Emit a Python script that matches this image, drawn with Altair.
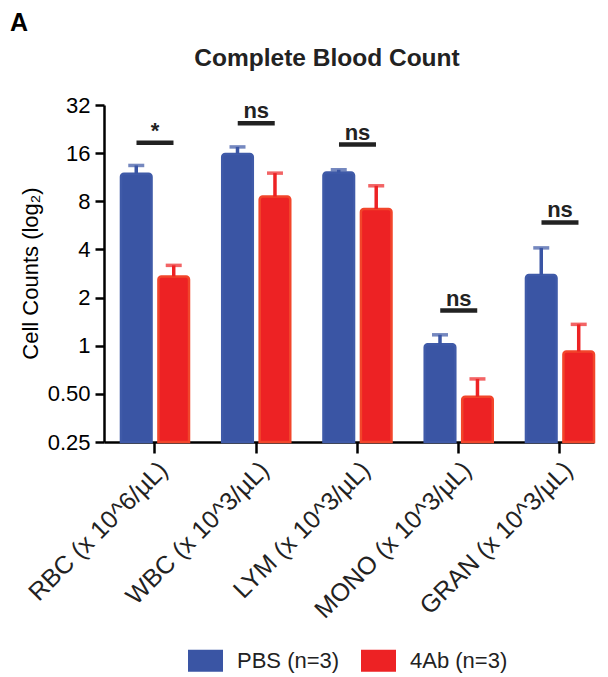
import altair as alt
import pandas as pd

categories = ["RBC (x 10^6/µL)", "WBC (x 10^3/µL)", "LYM (x 10^3/µL)",
              "MONO (x 10^3/µL)", "GRAN (x 10^3/µL)"]
groups = ["PBS (n=3)", "4Ab (n=3)"]
pbs_mean = [11.9, 15.8, 12.1, 1.02, 2.77]
pbs_upper = [13.4, 17.5, 12.6, 1.17, 4.09]
ab_mean = [2.71, 8.56, 7.16, 0.48, 0.92]
ab_upper = [3.18, 12.0, 10.0, 0.62, 1.36]
sig_labels = ["*", "ns", "ns", "ns", "ns"]
sig_y = [18.6, 24.6, 18.1, 1.66, 5.9]
y_ticks = [0.25, 0.5, 1, 2, 4, 8, 16, 32]
y_min = 0.25

rows = []
for i, c in enumerate(categories):
    rows.append({"cat": c, "group": groups[0], "mean": pbs_mean[i], "upper": pbs_upper[i]})
    rows.append({"cat": c, "group": groups[1], "mean": ab_mean[i], "upper": ab_upper[i]})
df = pd.DataFrame(rows)
sig = pd.DataFrame({"cat": categories, "label": sig_labels, "y": sig_y})

FONT = "Liberation Sans"
colors = ["#3A55A4", "#ED2224"]
strokes = ["#3F5AA8", "#F2452B"]

xenc = alt.X("cat:N", sort=categories, title=None,
             scale=alt.Scale(paddingInner=0.328, paddingOuter=0.0838, align=1),
             axis=alt.Axis(labelAngle=-45, labelFontSize=25, labelPadding=4,
                           tickSize=11, labelLimit=300, labelColor="#222222"))
xoff = alt.XOffset("group:N", sort=groups,
                   scale=alt.Scale(paddingInner=0.184, paddingOuter=0))
yscale = alt.Scale(type="log", base=2, domain=[0.25, 32])
cscale = alt.Scale(domain=groups, range=colors)

bars = alt.Chart(df).mark_bar(cornerRadiusTopLeft=3, cornerRadiusTopRight=3,
                              strokeWidth=2.5).encode(
    x=xenc, xOffset=xoff,
    y=alt.Y("mean:Q", scale=yscale,
            axis=alt.Axis(values=y_ticks, tickSize=9, labelFontSize=22, labelPadding=5,
                          labelExpr="datum.value == 0.5 ? '0.50' : toString(datum.value)",
                          title="Cell Counts (log₂)", titleFontSize=22,
                          titleFontWeight="normal", titleX=-74, titleY=168,
                          titleBaseline="middle", titleAlign="center", titleAngle=270)),
    y2=alt.datum(y_min),
    color=alt.Color("group:N", scale=cscale,
                    legend=alt.Legend(title=None, orient="none", legendX=84, legendY=538,
                                      direction="horizontal",
                                      symbolType="M-1,-0.63L1,-0.63L1,0.63L-1,0.63Z",
                                      symbolSize=1225, labelFontSize=22, labelFont=FONT,
                                      labelColor="#222222", symbolStrokeWidth=0,
                                      symbolOpacity=1, columnPadding=21, labelOffset=14,
                                      padding=0)),
    stroke=alt.Stroke("group:N", scale=alt.Scale(domain=groups, range=strokes), legend=None),
)

err = alt.Chart(df).mark_rule(strokeWidth=3.5).encode(
    x=xenc, xOffset=xoff, y="mean:Q", y2="upper:Q",
    color=alt.Color("group:N", scale=cscale, legend=None),
)
caps = alt.Chart(df).mark_tick(orient="horizontal", size=16, thickness=3.5).encode(
    x=xenc, xOffset=xoff, y="upper:Q",
    color=alt.Color("group:N", scale=cscale, legend=None),
)

sig_line = alt.Chart(sig).mark_tick(orient="horizontal", size=37, thickness=4.5,
                                    color="#222222", opacity=1).encode(
    x=xenc, y="y:Q")
sig_text = alt.Chart(sig).mark_text(fontSize=22, fontWeight="bold", font=FONT,
                                    color="#222222", baseline="alphabetic", dy=-5).encode(
    x=xenc, y="y:Q", text="label:N")

panel = alt.Chart(pd.DataFrame({"t": ["A"], "title": ["Complete Blood Count"]}))
label_a = panel.mark_text(
    fontSize=25, fontWeight="bold", font=FONT, color="black",
    align="left", baseline="alphabetic").encode(
    x=alt.value(-94), y=alt.value(-74), text="t:N")
title = panel.mark_text(
    fontSize=24.5, fontWeight="bold", font=FONT, color="#222222",
    align="center", baseline="alphabetic").encode(
    x=alt.value(223), y=alt.value(-39), text="title:N")

chart = alt.layer(bars, err, caps, sig_line, sig_text, label_a, title).properties(
    width=490, height=337,
    autosize=alt.AutoSizeParams(type="none"),
    padding={"left": 96, "top": 97, "right": 4, "bottom": 234},
).configure_view(stroke=None).configure_axis(
    domainColor="black", domainWidth=2.5, tickColor="black", tickWidth=2.5,
    labelColor="black", labelFont=FONT, titleFont=FONT, titleColor="black", grid=False,
)

chart.save("out.html", embed_options={"renderer": "svg", "actions": False})
